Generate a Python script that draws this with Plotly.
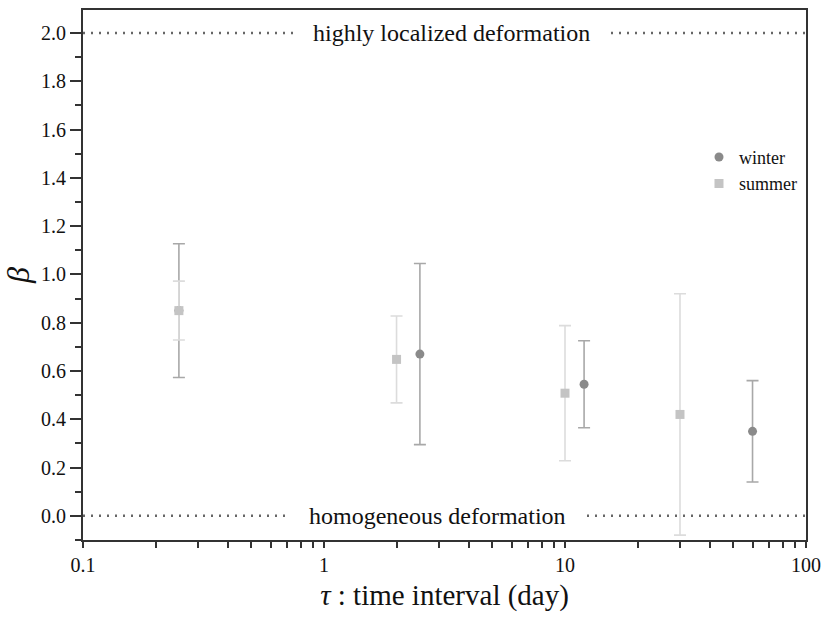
import plotly.graph_objects as go

# Time interval (days) and beta estimates with uncertainties
winter_tau = [0.25, 2.5, 12, 60]
winter_beta = [0.85, 0.67, 0.545, 0.35]
winter_err = [0.277, 0.375, 0.18, 0.21]

summer_tau = [0.25, 2, 10, 30]
summer_beta = [0.85, 0.648, 0.508, 0.42]
summer_err = [0.122, 0.18, 0.28, 0.5]

x_major = [0.1, 1, 10, 100]
y_ticks = [0.0, 0.2, 0.4, 0.6, 0.8, 1.0, 1.2, 1.4, 1.6, 1.8, 2.0]

FONT = "Liberation Serif, Times New Roman, serif"
PAD = "\u00a0" * 3

fig = go.Figure()

fig.add_trace(go.Scatter(
    x=winter_tau, y=winter_beta, mode="markers", name="winter",
    marker=dict(symbol="circle", size=9, color="#8a8a8a"),
    error_y=dict(type="data", array=winter_err, visible=True,
                 color="#a8a8a8", thickness=1.6, width=6),
))
fig.add_trace(go.Scatter(
    x=summer_tau, y=summer_beta, mode="markers", name="summer",
    marker=dict(symbol="square", size=9, color="#c4c4c4"),
    error_y=dict(type="data", array=summer_err, visible=True,
                 color="#dcdcdc", thickness=1.6, width=6),
))

# Reference levels: homogeneous (0) and highly localized (2) deformation
for level in (0.0, 2.0):
    fig.add_shape(type="line", xref="paper", yref="y", x0=0, x1=1,
                  y0=level, y1=level,
                  line=dict(color="#666666", width=2.5, dash="2px,6px"), layer="below")

for level, xpos, label in ((2.0, 0.51, "highly localized deformation"),
                           (0.0, 0.49, "homogeneous deformation")):
    fig.add_annotation(x=xpos, xref="paper", y=level, yref="y",
                       text=PAD + label + PAD, showarrow=False, bgcolor="white",
                       font=dict(family=FONT, size=24, color="#111"),
                       borderpad=0)

# Log x ticks with labels only at decades
x_tickvals = []
x_ticktext = []
for dec in (0.1, 1, 10):
    for m in range(1, 10):
        v = round(dec * m, 6)
        x_tickvals.append(v)
        x_ticktext.append(str(v) if v in x_major else "")
x_tickvals.append(100)
x_ticktext.append("100")

fig.update_layout(
    width=825, height=617,
    margin=dict(l=83, r=19, t=10, b=77),
    plot_bgcolor="white", paper_bgcolor="white",
    font=dict(family=FONT, size=20, color="#111"),
    showlegend=True,
    legend=dict(x=0.852, y=0.757, xanchor="left", yanchor="top",
                bgcolor="rgba(0,0,0,0)", font=dict(family=FONT, size=18),
                itemwidth=30),
    xaxis=dict(
        type="log", range=[-1, 2], automargin=False,
        tickvals=x_tickvals, ticktext=x_ticktext,
        ticks="outside", ticklen=6, tickwidth=2, tickcolor="#333",
        showline=True, linecolor="#333", linewidth=2, mirror=True,
        showgrid=False, zeroline=False,
        tickfont=dict(family=FONT, size=20),
        title=dict(text="<i>τ</i> : time interval (day)",
                   font=dict(family=FONT, size=29), standoff=10),
    ),
    yaxis=dict(
        range=[-0.1, 2.095], automargin=False,
        tickvals=y_ticks, tickformat=".1f",
        ticks="outside", ticklen=11, tickwidth=2, tickcolor="#333",
        minor=dict(dtick=0.2, tick0=0.1, ticks="outside", ticklen=6,
                   tickwidth=2, tickcolor="#333", showgrid=False),
        showline=True, linecolor="#333", linewidth=2, mirror=True,
        showgrid=False, zeroline=False,
        tickfont=dict(family=FONT, size=20),
        title=dict(text="<i>β</i>", font=dict(family=FONT, size=32), standoff=18),
    ),
)

fig.write_html("out.html")
